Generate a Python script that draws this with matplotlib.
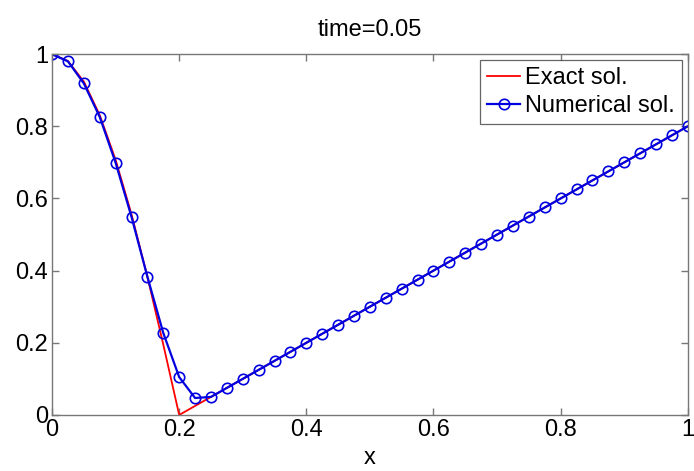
import numpy as np
import matplotlib
matplotlib.use('Agg')
import matplotlib.pyplot as plt

plt.rcParams['font.family'] = ['Liberation Sans', 'DejaVu Sans']

# grid points (step 0.025)
x = np.linspace(0, 1, 41)

# exact solution at the same grid points
exact = [1.0, 0.981, 0.924, 0.831, 0.707, 0.556, 0.383, 0.195, 0.0, 0.025,
         0.05, 0.075, 0.1, 0.125, 0.15, 0.175, 0.2, 0.225, 0.25, 0.275,
         0.3, 0.325, 0.35, 0.375, 0.4, 0.425, 0.45, 0.475, 0.5, 0.525,
         0.55, 0.575, 0.6, 0.625, 0.65, 0.675, 0.7, 0.725, 0.75, 0.775, 0.8]

# numerical solution
numerical = [1.0, 0.98, 0.919, 0.826, 0.699, 0.549, 0.383, 0.227, 0.105, 0.047,
             0.05, 0.075, 0.1, 0.125, 0.15, 0.175, 0.2, 0.225, 0.25, 0.275,
             0.3, 0.325, 0.35, 0.375, 0.4, 0.425, 0.45, 0.475, 0.5, 0.525,
             0.55, 0.575, 0.6, 0.625, 0.65, 0.675, 0.7, 0.725, 0.75, 0.775, 0.8]

tick_labels = ['0', '0.2', '0.4', '0.6', '0.8', '1']

fig = plt.figure(figsize=(6.94, 4.71), dpi=100)
ax = fig.add_axes([0.075, 0.119, 0.916, 0.766])

ax.plot(x, exact, color='red', lw=1.3, label='Exact sol.')
ax.plot(x, numerical, color='#0000e0', lw=1.6, marker='o', ms=7.5,
        mfc='none', mec='#0000e0', mew=1.2, label='Numerical sol.')

ax.set_xlim(0, 1)
ax.set_ylim(0, 1)
ax.set_xticks(np.arange(0, 1.01, 0.2))
ax.set_yticks(np.arange(0, 1.01, 0.2))
ax.set_xticklabels(tick_labels)
ax.set_yticklabels(tick_labels)

axis_col = '#777777'
for s in ax.spines.values():
    s.set_color(axis_col)
    s.set_linewidth(1.0)
ax.tick_params(direction='in', length=5, width=1, color=axis_col,
               top=True, right=True, labelsize=17, pad=3)

ax.set_xlabel('x', fontsize=17, labelpad=4)
ax.set_title('time=0.05', fontsize=17, pad=13)

leg = ax.legend(loc='upper right', fontsize=17, frameon=True, fancybox=False,
                borderpad=0.3, labelspacing=0.25, handlelength=1.4,
                handletextpad=0.2, borderaxespad=0.25)
leg.get_frame().set_edgecolor('#404040')
leg.get_frame().set_linewidth(0.9)

plt.savefig('out.png', dpi=100)
